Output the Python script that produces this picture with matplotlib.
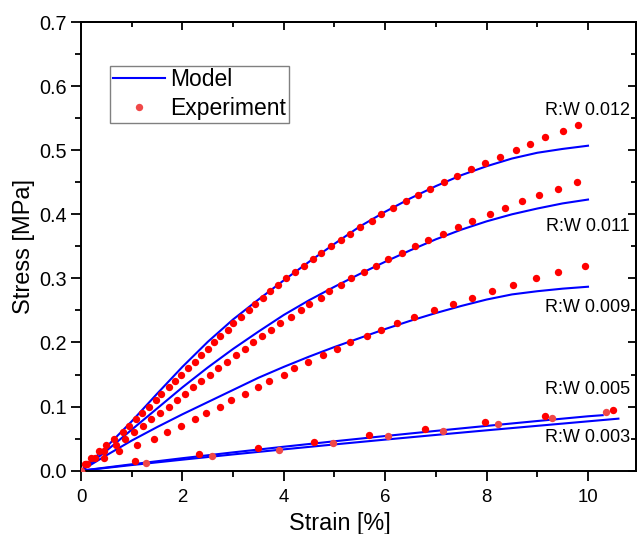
"""Stress-strain curves: model vs experiment for several R:W ratios."""
import matplotlib
matplotlib.use("Agg")
import matplotlib.pyplot as plt
from matplotlib.ticker import MultipleLocator, FormatStrFormatter

plt.rcParams['font.family'] = ['Liberation Sans', 'DejaVu Sans']

# experiment, R:W 0.012
strain_012 = [0, 0.07, 0.20, 0.35, 0.50, 0.66, 0.82, 0.94, 1.09, 1.21, 1.35, 1.47, 1.58,
              1.73, 1.86, 1.98, 2.12, 2.24, 2.36, 2.50, 2.62, 2.74, 2.89, 3.00, 3.16, 3.31,
              3.43, 3.58, 3.73, 3.89, 4.04, 4.23, 4.40, 4.58, 4.74, 4.93, 5.12, 5.30, 5.50,
              5.73, 5.92, 6.16, 6.42, 6.65, 6.88, 7.16, 7.42, 7.69, 7.96, 8.27, 8.58, 8.85,
              9.16, 9.50, 9.81]
stress_012 = [0.00, 0.01, 0.02, 0.03, 0.04, 0.05, 0.06, 0.07, 0.08, 0.09, 0.10, 0.11, 0.12,
              0.13, 0.14, 0.15, 0.16, 0.17, 0.18, 0.19, 0.20, 0.21, 0.22, 0.23, 0.24, 0.25,
              0.26, 0.27, 0.28, 0.29, 0.30, 0.31, 0.32, 0.33, 0.34, 0.35, 0.36, 0.37, 0.38,
              0.39, 0.40, 0.41, 0.42, 0.43, 0.44, 0.45, 0.46, 0.47, 0.48, 0.49, 0.50, 0.51,
              0.52, 0.53, 0.54]

# experiment, R:W 0.011
strain_011 = [0, 0.10, 0.28, 0.45, 0.70, 0.87, 1.04, 1.22, 1.39, 1.56, 1.73, 1.90, 2.06,
              2.20, 2.37, 2.54, 2.71, 2.88, 3.06, 3.23, 3.40, 3.57, 3.75, 3.92, 4.15, 4.33,
              4.50, 4.73, 4.90, 5.12, 5.33, 5.59, 5.82, 6.06, 6.34, 6.58, 6.85, 7.15, 7.43,
              7.72, 8.07, 8.36, 8.69, 9.04, 9.40, 9.79]
stress_011 = [0.00, 0.01, 0.02, 0.03, 0.04, 0.05, 0.06, 0.07, 0.08, 0.09, 0.10, 0.11, 0.12,
              0.13, 0.14, 0.15, 0.16, 0.17, 0.18, 0.19, 0.20, 0.21, 0.22, 0.23, 0.24, 0.25,
              0.26, 0.27, 0.28, 0.29, 0.30, 0.31, 0.32, 0.33, 0.34, 0.35, 0.36, 0.37, 0.38,
              0.39, 0.40, 0.41, 0.42, 0.43, 0.44, 0.45]

# experiment, R:W 0.009
strain_009 = [0, 0.12, 0.45, 0.75, 1.10, 1.43, 1.70, 1.97, 2.24, 2.47, 2.74, 2.96, 3.23,
              3.50, 3.71, 4.00, 4.21, 4.48, 4.77, 5.04, 5.30, 5.64, 5.92, 6.24, 6.57, 6.96,
              7.34, 7.72, 8.10, 8.53, 8.97, 9.41, 9.95]
stress_009 = [0.00, 0.01, 0.02, 0.03, 0.04, 0.05, 0.06, 0.07, 0.08, 0.09, 0.10, 0.11, 0.12,
              0.13, 0.14, 0.15, 0.16, 0.17, 0.18, 0.19, 0.20, 0.21, 0.22, 0.23, 0.24, 0.25,
              0.26, 0.27, 0.28, 0.29, 0.30, 0.31, 0.32]

# experiment, R:W 0.005 and 0.003
strain_005 = [0, 1.07, 2.33, 3.50, 4.60, 5.69, 6.79, 7.96, 9.15, 10.50]
stress_005 = [0, 0.0150, 0.0256, 0.0355, 0.0453, 0.0558, 0.0656, 0.0756, 0.0855, 0.0953]
strain_003 = [0, 1.28, 2.59, 3.91, 4.98, 6.06, 7.14, 8.22, 9.29, 10.36]
stress_003 = [0, 0.0125, 0.0230, 0.0329, 0.0433, 0.0537, 0.0625, 0.0730, 0.0828, 0.0922]

# model curves
model_strain = [0, 0.5, 1.0, 1.5, 2.0, 2.5, 3.0, 3.5, 4.0, 4.5, 5.0, 5.5, 6.0, 6.5, 7.0,
                7.5, 8.0, 8.5, 9.0, 9.5, 10.0]
model_012 = [0, 0.037, 0.077, 0.120, 0.162, 0.201, 0.236, 0.267, 0.297, 0.326, 0.354,
             0.381, 0.404, 0.425, 0.444, 0.461, 0.475, 0.487, 0.496, 0.502, 0.507]
model_011 = [0, 0.031, 0.064, 0.097, 0.130, 0.161, 0.190, 0.217, 0.243, 0.266, 0.287,
             0.307, 0.326, 0.344, 0.361, 0.376, 0.389, 0.400, 0.409, 0.417, 0.423]
model_009 = [0, 0.024, 0.047, 0.068, 0.088, 0.107, 0.126, 0.145, 0.162, 0.178, 0.193,
             0.207, 0.221, 0.234, 0.246, 0.257, 0.267, 0.275, 0.280, 0.284, 0.287]
model_strain_005 = [0, 1, 2, 3, 4, 5, 6, 7, 8, 9, 10, 10.29]
model_005 = [0, 0.0100, 0.0195, 0.0286, 0.0374, 0.0459, 0.0541, 0.0621, 0.0699, 0.0775,
             0.0849, 0.0866]
model_strain_003 = [0, 1, 2, 3, 4, 5, 6, 7, 8, 9, 10, 10.6]
model_003 = [0, 0.0088, 0.0172, 0.0254, 0.0333, 0.0410, 0.0485, 0.0558, 0.0630, 0.0700,
             0.0770, 0.0812]

ratio_labels = ["R:W 0.012", "R:W 0.011", "R:W 0.009", "R:W 0.005", "R:W 0.003"]
label_y = [0.562, 0.381, 0.254, 0.126, 0.052]

BLUE = "#0000ff"
RED = "#ff0000"
LIGHT_RED = "#f04848"

fig = plt.figure(figsize=(6.38, 5.34), dpi=100)
ax = fig.add_axes([0.12696, 0.11854, 0.86991, 0.84026])

ax.plot(model_strain, model_012, color=BLUE, lw=1.5, label="Model", zorder=2)
ax.plot(model_strain, model_011, color=BLUE, lw=1.5, zorder=2)
ax.plot(model_strain, model_009, color=BLUE, lw=1.5, zorder=2)
ax.plot(model_strain_005, model_005, color=BLUE, lw=1.5, zorder=2)
ax.plot(model_strain_003, model_003, color=BLUE, lw=1.5, zorder=2)

ms = 5.3
ax.plot(strain_012, stress_012, 'o', color=RED, ms=ms, mew=0, zorder=3)
ax.plot(strain_011, stress_011, 'o', color=RED, ms=ms, mew=0, zorder=3)
ax.plot(strain_009, stress_009, 'o', color=RED, ms=ms, mew=0, zorder=3)
ax.plot(strain_005, stress_005, 'o', color=RED, ms=ms, mew=0, zorder=3)
ax.plot(strain_003, stress_003, 'o', color=LIGHT_RED, ms=ms, mew=0, zorder=3,
        label="Experiment")

for txt, y in zip(ratio_labels, label_y):
    ax.text(10.83, y, txt, ha='right', va='center', fontsize=13)

ax.set_xlim(0, 10.947)
ax.set_ylim(0, 0.7)
ax.xaxis.set_major_locator(MultipleLocator(2))
ax.xaxis.set_minor_locator(MultipleLocator(1))
ax.yaxis.set_major_locator(MultipleLocator(0.1))
ax.yaxis.set_minor_locator(MultipleLocator(0.05))
ax.yaxis.set_major_formatter(FormatStrFormatter('%.1f'))
ax.tick_params(which='both', direction='out', width=1.3)
ax.tick_params(axis='x', labelsize=13.4, pad=6)
ax.tick_params(axis='y', labelsize=14.3, pad=3.5)
ax.tick_params(which='major', length=7)
ax.tick_params(which='minor', length=4.5)
for sp in ax.spines.values():
    sp.set_linewidth(1.4)

# mirrored ticks pointing inward on top and right
top = ax.secondary_xaxis('top')
top.xaxis.set_major_locator(MultipleLocator(2))
top.xaxis.set_minor_locator(MultipleLocator(1))
top.tick_params(which='both', direction='in', width=1.3, labeltop=False)
top.tick_params(which='major', length=6)
top.tick_params(which='minor', length=3.5)
top.spines['top'].set_linewidth(1.4)
right = ax.secondary_yaxis('right')
right.yaxis.set_major_locator(MultipleLocator(0.1))
right.yaxis.set_minor_locator(MultipleLocator(0.05))
right.tick_params(which='both', direction='in', width=1.3, labelright=False)
right.tick_params(which='major', length=6)
right.tick_params(which='minor', length=3.5)
right.spines['right'].set_linewidth(1.4)

ax.set_xlabel("Strain [%]", fontsize=16.8)
ax.set_ylabel("Stress [MPa]", fontsize=17)
ax.xaxis.set_label_coords(0.467, -0.092)
ax.yaxis.set_label_coords(-0.083, 0.5)

leg = ax.legend(loc='upper left', bbox_to_anchor=(0.052, 0.9026), borderaxespad=0,
                fontsize=16.5, fancybox=False, framealpha=1, edgecolor='#808080',
                handlelength=2.3, handletextpad=0.2, borderpad=0.12, labelspacing=0.25,
                numpoints=1)
leg.get_frame().set_linewidth(1.0)

fig.savefig("out.png", dpi=100)
